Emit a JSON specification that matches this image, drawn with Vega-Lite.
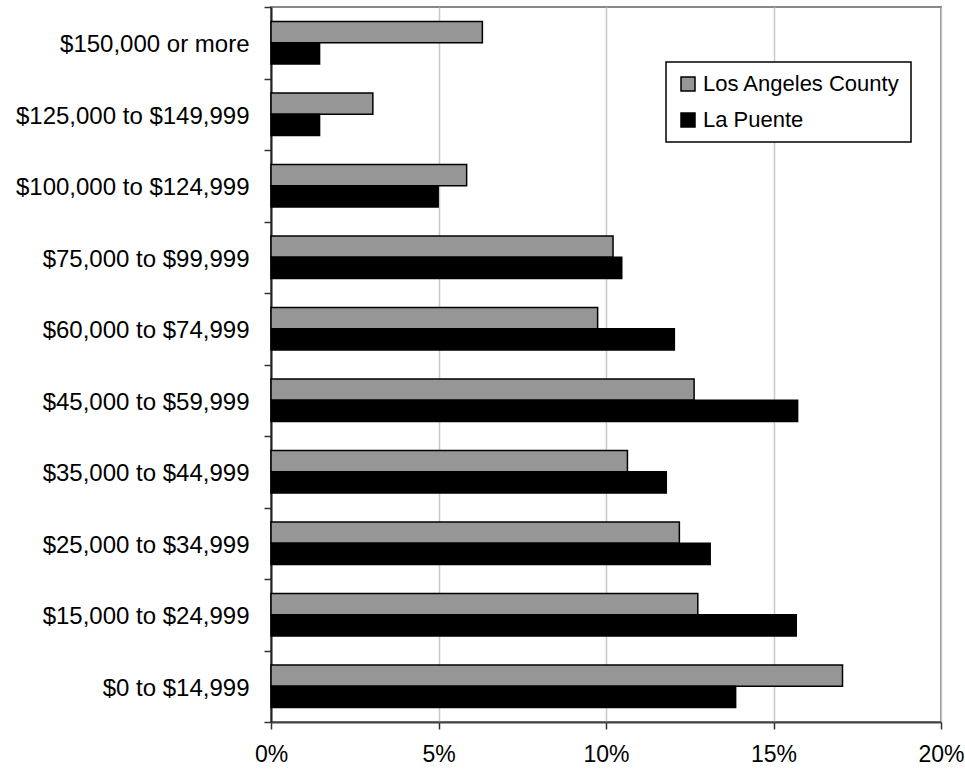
{
  "$schema": "https://vega.github.io/schema/vega-lite/v6.json",
  "width": 670,
  "height": 715,
  "autosize": {"type": "none"},
  "padding": {"left": 271, "top": 7, "right": 24, "bottom": 52},
  "background": "white",
  "data": {
    "values": [
      {"income": "$150,000 or more", "area": "Los Angeles County", "pct": 6.31},
      {"income": "$150,000 or more", "area": "La Puente", "pct": 1.45},
      {"income": "$125,000 to $149,999", "area": "Los Angeles County", "pct": 3.04},
      {"income": "$125,000 to $149,999", "area": "La Puente", "pct": 1.45},
      {"income": "$100,000 to $124,999", "area": "Los Angeles County", "pct": 5.84},
      {"income": "$100,000 to $124,999", "area": "La Puente", "pct": 4.99},
      {"income": "$75,000 to $99,999", "area": "Los Angeles County", "pct": 10.21},
      {"income": "$75,000 to $99,999", "area": "La Puente", "pct": 10.47},
      {"income": "$60,000 to $74,999", "area": "Los Angeles County", "pct": 9.75},
      {"income": "$60,000 to $74,999", "area": "La Puente", "pct": 12.04},
      {"income": "$45,000 to $59,999", "area": "Los Angeles County", "pct": 12.63},
      {"income": "$45,000 to $59,999", "area": "La Puente", "pct": 15.72},
      {"income": "$35,000 to $44,999", "area": "Los Angeles County", "pct": 10.64},
      {"income": "$35,000 to $44,999", "area": "La Puente", "pct": 11.8},
      {"income": "$25,000 to $34,999", "area": "Los Angeles County", "pct": 12.19},
      {"income": "$25,000 to $34,999", "area": "La Puente", "pct": 13.11},
      {"income": "$15,000 to $24,999", "area": "Los Angeles County", "pct": 12.74},
      {"income": "$15,000 to $24,999", "area": "La Puente", "pct": 15.68},
      {"income": "$0 to $14,999", "area": "Los Angeles County", "pct": 17.06},
      {"income": "$0 to $14,999", "area": "La Puente", "pct": 13.87}
    ]
  },
  "mark": {"type": "bar", "stroke": "#000000", "strokeWidth": 1.5},
  "encoding": {
    "y": {
      "field": "income",
      "type": "nominal",
      "sort": ["$150,000 or more", "$125,000 to $149,999", "$100,000 to $124,999", "$75,000 to $99,999", "$60,000 to $74,999", "$45,000 to $59,999", "$35,000 to $44,999", "$25,000 to $34,999", "$15,000 to $24,999", "$0 to $14,999"],
      "scale": {"paddingInner": 0, "paddingOuter": 0},
      "axis": {
        "title": null,
        "tickBand": "extent",
        "tickSize": 7,
        "tickColor": "#333333",
        "tickWidth": 1.5,
        "domainColor": "#222222",
        "domainWidth": 2,
        "labelPadding": 15,
        "labelOffset": 2,
        "labelFont": "Liberation Sans",
        "labelFontSize": 24,
        "labelColor": "#000000",
        "labelLimit": 300,
        "grid": false
      }
    },
    "yOffset": {
      "field": "area",
      "type": "nominal",
      "sort": ["Los Angeles County", "La Puente"],
      "scale": {"paddingInner": 0, "paddingOuter": 0.68}
    },
    "x": {
      "field": "pct",
      "type": "quantitative",
      "scale": {"domain": [0, 20], "nice": false},
      "axis": {
        "title": null,
        "values": [0, 5, 10, 15, 20],
        "labelExpr": "datum.value + '%'",
        "labelFlush": false,
        "tickSize": 7,
        "tickColor": "#333333",
        "tickWidth": 1.5,
        "domainColor": "#444444",
        "domainWidth": 2,
        "labelPadding": 14,
        "labelFont": "Liberation Sans",
        "labelFontSize": 23,
        "labelColor": "#000000",
        "grid": true,
        "gridColor": "#c8c8c8",
        "gridWidth": 1.5
      }
    },
    "color": {
      "field": "area",
      "type": "nominal",
      "sort": ["Los Angeles County", "La Puente"],
      "scale": {"domain": ["Los Angeles County", "La Puente"], "range": ["#969696", "#000000"]},
      "legend": {
        "title": null,
        "orient": "none",
        "legendX": 395,
        "legendY": 55,
        "direction": "vertical",
        "symbolType": "square",
        "symbolSize": 196,
        "symbolStrokeColor": "#000000",
        "symbolStrokeWidth": 1.5,
        "labelFont": "Liberation Sans",
        "labelFontSize": 22,
        "labelColor": "#000000",
        "labelOffset": 4,
        "rowPadding": 14,
        "padding": 11,
        "strokeColor": "#000000",
        "fillColor": "#ffffff",
        "labelLimit": 400
      }
    }
  },
  "config": {
    "view": {"stroke": "#888888", "strokeWidth": 2},
    "legend": {"strokeWidth": 1.5}
  }
}
